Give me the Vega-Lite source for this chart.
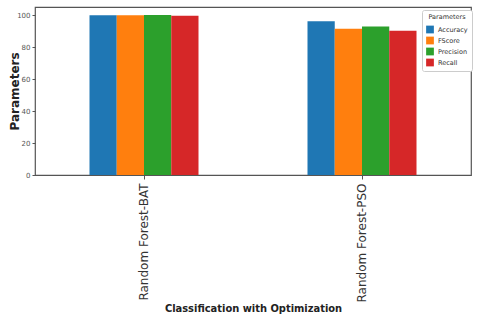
{
  "$schema": "https://vega.github.io/schema/vega-lite/v6.json",
  "width": 436,
  "height": 168,
  "autosize": "none",
  "padding": {"left": 35, "top": 7, "right": 9, "bottom": 145},
  "background": "white",
  "config": {
    "font": "DejaVu Sans",
    "view": {"stroke": "#555555", "strokeWidth": 1.2}
  },
  "data": {
    "values": [
      {"model": "Random Forest-BAT", "param": "Accuracy", "value": 99.8},
      {"model": "Random Forest-BAT", "param": "FScore", "value": 99.8},
      {"model": "Random Forest-BAT", "param": "Precision", "value": 100},
      {"model": "Random Forest-BAT", "param": "Recall", "value": 99.5},
      {"model": "Random Forest-PSO", "param": "Accuracy", "value": 96.1},
      {"model": "Random Forest-PSO", "param": "FScore", "value": 91.4},
      {"model": "Random Forest-PSO", "param": "Precision", "value": 92.8},
      {"model": "Random Forest-PSO", "param": "Recall", "value": 90.1}
    ]
  },
  "mark": {"type": "bar"},
  "encoding": {
    "x": {
      "field": "model", "type": "nominal",
      "scale": {"paddingInner": 0.5, "paddingOuter": 0.25},
      "axis": {
        "title": "Classification with Optimization",
        "titleFont": "DejaVu Sans Condensed", "titleFontSize": 11, "titleFontWeight": "bold", "titleColor": "#222222",
        "titleX": 218, "titleY": 133, "titleBaseline": "middle", "titleAlign": "center",
        "labelAngle": 270, "labelFontSize": 12, "labelColor": "#333333", "labelPadding": 4,
        "domain": false, "tickColor": "#555555", "tickSize": 4, "grid": false
      }
    },
    "xOffset": {"field": "param", "type": "nominal", "sort": ["Accuracy", "FScore", "Precision", "Recall"], "scale": {"paddingInner": 0, "paddingOuter": 0}},
    "y": {
      "field": "value", "type": "quantitative",
      "scale": {"domain": [0, 105], "nice": false},
      "axis": {
        "title": "Parameters", "titleFontSize": 12, "titleFontWeight": "bold", "titleColor": "#222222",
        "titleX": -21, "titleY": 84, "titleAngle": 270, "titleBaseline": "middle", "titleAlign": "center",
        "values": [0, 20, 40, 60, 80, 100], "labelFontSize": 7, "labelColor": "#555555",
        "domain": false, "grid": false, "tickColor": "#555555", "tickSize": 3
      }
    },
    "color": {
      "field": "param", "type": "nominal",
      "sort": ["Accuracy", "FScore", "Precision", "Recall"],
      "scale": {"domain": ["Accuracy", "FScore", "Precision", "Recall"], "range": ["#1f77b4", "#ff7f0e", "#2ca02c", "#d62728"]},
      "legend": {
        "title": "Parameters", "orient": "none", "legendX": 387, "legendY": 3,
        "titleFontSize": 6.5, "titleFontWeight": "normal", "titleColor": "#333333", "titleAnchor": "middle",
        "labelFontSize": 6.5, "labelColor": "#333333",
        "symbolType": "square", "symbolSize": 60, "symbolStrokeWidth": 0,
        "rowPadding": 3, "padding": 4, "strokeColor": "#cccccc", "fillColor": "white", "cornerRadius": 2
      }
    }
  }
}
